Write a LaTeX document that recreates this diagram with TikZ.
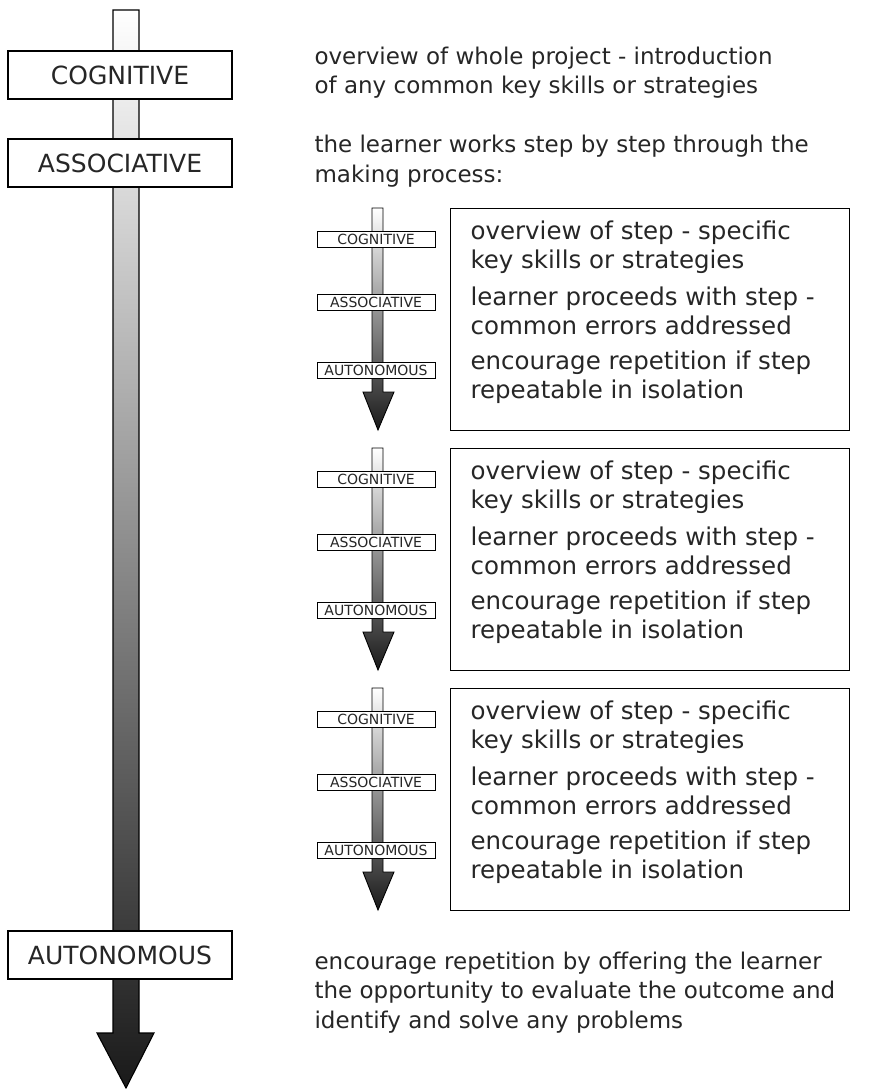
\documentclass[tikz,border=0pt]{standalone}
\usepackage{fontspec}
\setmainfont{DejaVu Sans}
\begin{document}
\begin{tikzpicture}
  [x=1pt,y=-1pt,line width=1.1pt,every node/.style={inner sep=0pt,text=black!85}]
  \tikzstyle{stage} = [draw=black,fill=white,minimum width=224pt,minimum height=48pt,font=\fontsize{25}{28}\selectfont]
  \tikzstyle{substage} = [draw=black,fill=white,line width=0.9pt,minimum width=118pt,minimum height=16pt,font=\fontsize{14}{15}\selectfont]
  \tikzstyle{note} = [anchor=base west,align=left,font=\fontsize{23}{29.5}\selectfont]
  \tikzstyle{stepnote} = [note,font=\fontsize{24.5}{29}\selectfont]
  \useasboundingbox (0,0) rectangle (872,1089);
  % main arrow
  \shade[top color=white,bottom color=black!90,draw]
    (113,10) -- (139,10) -- (139,1033) -- (154,1033) -- (126,1088)
    -- (97,1033) -- (113,1033) -- cycle;
  \node[stage] (cog) at (120,75)  {COGNITIVE};
  \node[stage] (ass) at (120,163) {ASSOCIATIVE};
  \node[stage] (aut) at (120,955) {AUTONOMOUS};
  % base of a note is its last line
  \node[note] (intro) at (314,94) {overview of whole project - introduction\\of any common key skills or strategies};
  \node[note] (works) at (314,182) {the learner works step by step through the\\making process:};
  \node[note] (repeat) at (314,1028) {encourage repetition by offering the learner\\the opportunity to evaluate the outcome and\\identify and solve any problems};
  % the steps
  \foreach \g /\t in {1/208,2/448,3/688} {
    \shade[top color=white,bottom color=black!90,draw,line width=0.9pt]
      (372,\t) -- (383,\t) -- (383,\t+184) -- (394,\t+184) -- (378,\t+222)
      -- (363,\t+184) -- (372,\t+184) -- cycle;
    \node[substage] (cog\g) at (376,\t+31)  {COGNITIVE};
    \node[substage] (ass\g) at (376,\t+94)  {ASSOCIATIVE};
    \node[substage] (aut\g) at (376,\t+162) {AUTONOMOUS};
    \node[draw=black,anchor=north west,minimum width=399pt,minimum height=222pt] (box\g) at (450,\t) {};
    \node[stepnote] (over\g) at (470,\t+60.5)  {overview of step - specific\\key skills or strategies};
    \node[stepnote] (proc\g) at (470,\t+126.5) {learner proceeds with step -\\common errors addressed};
    \node[stepnote] (rep\g)  at (470,\t+190.5) {encourage repetition if step\\repeatable in isolation};
  }
\end{tikzpicture}
\end{document}
